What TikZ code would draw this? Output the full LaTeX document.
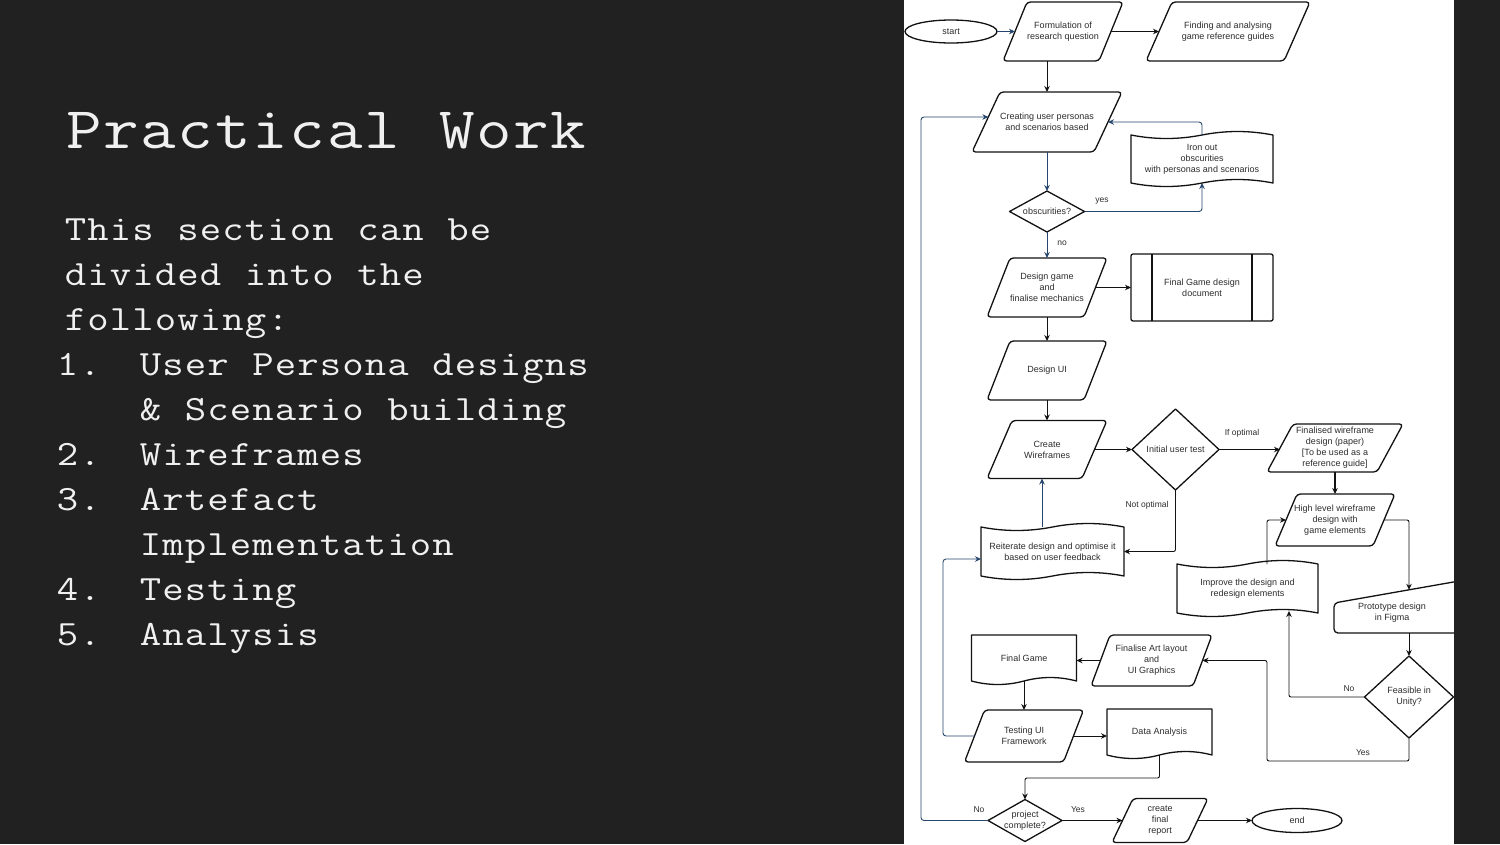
\documentclass[tikz,border=0pt]{standalone}
\usepackage{fontspec}
\usepackage{graphicx}
\setmainfont{Liberation Sans}
\usetikzlibrary{calc,arrows.meta,shapes.geometric}

\definecolor{slide}{RGB}{33,33,33}
\definecolor{slidetext}{RGB}{240,240,240}
\definecolor{loopblue}{RGB}{38,70,110}
\definecolor{ink}{RGB}{18,18,18}
\definecolor{txt}{RGB}{45,45,45}

% typewriter text set on a fixed character grid (~ marks a space),
% glyphs widened a little to fill their cells
\makeatletter
\newcommand\gridtext[2]{\@tfor\grid@c:=#2\do{\makebox[#1][c]{\scalebox{1.17}[1]{\grid@c}}}}
\makeatother
\newcommand\ttl[1]{\gridtext{37.3pt}{#1}}
\newcommand\bdy[1]{\gridtext{22.5pt}{#1}}

\tikzset{
  box/.style={draw=none, inner sep=0pt, outer sep=0pt, align=center,
    text=txt, font=\fontsize{9}{11}\selectfont},
  outline/.style={draw=ink, line width=1.3pt, line join=round},
  flow/.style={draw=ink, line width=0.9pt, -{Stealth[length=6pt,width=5.5pt]}},
  loopflow/.style={flow, draw=loopblue},
  lbl/.style={inner sep=0pt, text=txt, font=\fontsize{8.5}{10}\selectfont},
  title/.style={anchor=base west, inner sep=0pt, text=slidetext,
    font=\ttfamily\fontsize{59}{59}\selectfont},
  body/.style={anchor=base west, inner sep=0pt, text=slidetext,
    font=\ttfamily\fontsize{35.5}{45}\selectfont},
}

% parallelogram drawn on the box of a node; also gives side midpoints
\newcommand\parashape[2]{%
  \draw[outline, rounded corners=3.5pt] (#1.south west) -- ($(#1.north west)+(#2,0)$)
    -- (#1.north east) -- ($(#1.south east)+(-#2,0)$) -- cycle;
  \coordinate (#1-l) at ($(#1.west)+(#2/2,0)$);
  \coordinate (#1-r) at ($(#1.east)+(-#2/2,0)$);
}
% diamond on the box of a node
\newcommand\diamondshape[1]{%
  \draw[outline] (#1.north) -- (#1.east) -- (#1.south) -- (#1.west) -- cycle;
}
% tape: x0 y0 x1 y1 amplitude (wavy top and bottom)
\newcommand\tapeshape[5]{%
  \pgfmathsetmacro\tw{(#3)-(#1)}%
  \pgfmathsetmacro\tk{4*(#5)/3}%
  \pgfmathsetmacro\tm{((#1)+(#3))/2}%
  \draw[outline] (#1,#2)
    .. controls +(\tw/6,\tk) and +(-\tw/6,\tk) .. (\tm,#2)
    .. controls +(\tw/6,-\tk) and +(-\tw/6,-\tk) .. (#3,#2)
    -- (#3,#4)
    .. controls +(-\tw/6,-\tk) and +(\tw/6,-\tk) .. (\tm,#4)
    .. controls +(-\tw/6,\tk) and +(\tw/6,\tk) .. (#1,#4) -- cycle;
}
% document: x0 y0 x1 y1 amplitude (wavy bottom)
\newcommand\docshape[5]{%
  \pgfmathsetmacro\tw{(#3)-(#1)}%
  \pgfmathsetmacro\tk{4*(#5)/3}%
  \pgfmathsetmacro\tm{((#1)+(#3))/2}%
  \draw[outline] (#1,#4) -- (#1,#2) -- (#3,#2) -- (#3,#4)
    .. controls +(-\tw/6,-\tk) and +(\tw/6,-\tk) .. (\tm,#4)
    .. controls +(-\tw/6,\tk) and +(\tw/6,\tk) .. (#1,#4) -- cycle;
}

\begin{document}
\begin{tikzpicture}[x=1pt, y=-1pt]
\useasboundingbox (0,0) rectangle (1500,844);
\fill[slide] (0,0) rectangle (1500,844);
\fill[white] (904,0) rectangle (1454,844);

% ---- slide text ----
\node[title] (ttlnode) at (65,148) {\ttl{Practical~Work}};
\node[body] (b1) at (64,240) {\bdy{This~section~can~be}};
\node[body] (b2) at (64,285) {\bdy{divided~into~the}};
\node[body] (b3) at (64,330) {\bdy{following:}};
\node[body] (n1) at (56,375) {\bdy{1.}};
\node[body] (i1) at (139,375) {\bdy{User~Persona~designs}};
\node[body] (i1b) at (139,420) {\bdy{\&~Scenario~building}};
\node[body] (n2) at (56,465) {\bdy{2.}};
\node[body] (i2) at (139,465) {\bdy{Wireframes}};
\node[body] (n3) at (56,510) {\bdy{3.}};
\node[body] (i3) at (139,510) {\bdy{Artefact}};
\node[body] (i3b) at (139,555) {\bdy{Implementation}};
\node[body] (n4) at (56,600) {\bdy{4.}};
\node[body] (i4) at (139,600) {\bdy{Testing}};
\node[body] (n5) at (56,645) {\bdy{5.}};
\node[body] (i5) at (139,645) {\bdy{Analysis}};

% ---- flowchart nodes ----
\node[box, ellipse, draw=ink, line width=1.3pt, minimum width=92pt, minimum height=23pt] (start) at (951,31.5) {start};

\node[box, minimum width=120pt, minimum height=59pt] (formq) at (1063,31.5) {Formulation of\\research question};
\parashape{formq}{24}

\node[box, minimum width=164pt, minimum height=59pt] (finding) at (1228,31.5) {Finding and analysing\\game reference guides};
\parashape{finding}{26}

\node[box, minimum width=150pt, minimum height=60pt] (personas) at (1047,122) {Creating user personas\\and scenarios based};
\parashape{personas}{28}
\coordinate (personas-in) at ($(personas-l)+(2.4,-5)$);

\tapeshape{1131}{135}{1273}{183}{3.5}
\node[box, minimum width=142pt, minimum height=48pt] (ironout) at (1202,159) {Iron out\\obscurities\\with personas and scenarios};

\node[box, minimum width=75pt, minimum height=41pt] (obsc) at (1047,211.5) {obscurities?};
\diamondshape{obsc}

\node[box, minimum width=120pt, minimum height=59pt] (gamedesign) at (1047,287.5) {Design game\\and\\finalise mechanics};
\parashape{gamedesign}{23}

\node[box, minimum width=142pt, minimum height=67pt] (gdd) at (1202,287.5) {Final Game design\\document};
\draw[outline, rounded corners=2pt] (gdd.south west) rectangle (gdd.north east);
\draw[outline] ([xshift=21pt]gdd.north west) -- ([xshift=21pt]gdd.south west);
\draw[outline] ([xshift=-21pt]gdd.north east) -- ([xshift=-21pt]gdd.south east);

\node[box, minimum width=120pt, minimum height=59pt] (designui) at (1047,370.5) {Design UI};
\parashape{designui}{23}

\node[box, minimum width=120pt, minimum height=58pt] (wireframes) at (1047,449.5) {Create\\Wireframes};
\parashape{wireframes}{25}

\node[box, minimum width=87pt, minimum height=81pt] (inittest) at (1175.5,449.5) {Initial user test};
\diamondshape{inittest}

\node[box, minimum width=136pt, minimum height=48pt] (finalwire) at (1335,448) {Finalised wireframe\\design (paper)\\{[}To be used as a\\reference guide{]}};
\parashape{finalwire}{26}

\node[box, minimum width=120pt, minimum height=52pt] (highlevel) at (1335,520) {High level wireframe\\design with\\game elements};
\parashape{highlevel}{22}

\tapeshape{981}{527}{1124}{576}{3.5}
\node[box, minimum width=143pt, minimum height=49pt] (reiterate) at (1052.5,551.5) {Reiterate design and optimise it\\based on user feedback};

\tapeshape{1177}{564}{1318}{613}{3.5}
\node[box, minimum width=141pt, minimum height=49pt] (improve) at (1247.5,588.5) {Improve the design and\\redesign elements};

% manual input shape, cut by the slide edge
\draw[outline, rounded corners=4pt] (1334,633) -- (1334,603) -- (1462,580.5) -- (1462,633) -- cycle;
\node[box] (proto) at (1392,613) {Prototype design\\in Figma};
\coordinate (proto-in) at (1409,589.8);
\coordinate (proto-out) at (1409,633);

\node[box, minimum width=89pt, minimum height=82pt] (feasible) at (1409,697) {Feasible in\\Unity?};
\diamondshape{feasible}

\node[box, minimum width=121pt, minimum height=51pt] (finalise) at (1151.5,660.5) {Finalise Art layout\\and\\UI Graphics};
\parashape{finalise}{19}

\docshape{971.5}{635}{1076.5}{681}{3.5}
\node[box, minimum width=105pt, minimum height=46pt] (finalgame) at (1024,658) {Final Game};

\node[box, minimum width=119pt, minimum height=52pt] (testing) at (1024,736) {Testing UI\\Framework};
\parashape{testing}{20}

\docshape{1107}{709}{1212}{755}{3.5}
\node[box, minimum width=105pt, minimum height=46pt] (data) at (1159.5,732) {Data Analysis};

\node[box, minimum width=74pt, minimum height=42pt] (projc) at (1025,820.5) {project\\complete?};
\diamondshape{projc}

\node[box, minimum width=96pt, minimum height=44pt] (report) at (1160,820.5) {create\\final\\report};
\parashape{report}{21}

\node[box, ellipse, draw=ink, line width=1.3pt, minimum width=90pt, minimum height=24pt] (endn) at (1297,820.5) {end};

% ---- connectors ----
\coordinate (innerbus) at (943,0);
\coordinate (outerbus) at (921,0);
\coordinate (yesturn) at (1267,761);

\draw[loopflow] (start.east) -- (formq-l);
\draw[flow] (formq-r) -- (finding-l);
\draw[flow] (personas.north |- formq.south) -- (personas.north);
\draw[loopflow] (personas.south) -- (obsc.north);
\draw[loopflow, rounded corners=3pt] (obsc.east) -| (ironout.south);
\node[lbl] (lyes) at (1102,201) {yes};
\draw[loopflow, rounded corners=3pt] (ironout.north) |- (personas-r);
\draw[loopflow] (obsc.south) -- (gamedesign.north);
\node[lbl] (lno) at (1062,243) {no};
\draw[flow] (gamedesign-r) -- (gdd.west);
\draw[flow] (gamedesign.south) -- (designui.north);
\draw[flow] (designui.south) -- (wireframes.north);
\draw[flow] (wireframes-r) -- (inittest.west);
\draw[flow] (inittest.east) -- (inittest.east -| finalwire-l);
\node[lbl] (lopt) at (1242,433) {If optimal};
\draw[flow, line width=1.4pt] (finalwire.south) -- (highlevel.north);
\draw[flow, rounded corners=2pt] (inittest.south) |- (reiterate.east);
\node[lbl] (lnopt) at (1147,505) {Not optimal};
\draw[loopflow] ([xshift=-10.5pt]reiterate.north) -- ([xshift=-10.5pt]reiterate.north |- wireframes.south);
\draw[loopflow, rounded corners=3pt] (testing-l) -| ([yshift=-7.5pt]innerbus |- reiterate.west) -- ([yshift=-7.5pt]reiterate.west);
\draw[loopflow, rounded corners=3pt] (projc.west) -| (outerbus |- personas-in) -- (personas-in);
\node[lbl] (lno2) at (979,810) {No};
\draw[flow, rounded corners=2pt] ([xshift=19.5pt]improve.south |- improve.north) |- (highlevel-l);
\draw[flow, rounded corners=2pt] (highlevel-r) -| (proto-in);
\draw[flow] (proto-out) -- (feasible.north);
\draw[flow, rounded corners=2pt] (feasible.west) -| ([xshift=41.5pt,yshift=2pt]improve.south);
\node[lbl] (lno3) at (1349,689) {No};
\draw[flow, rounded corners=2pt] (feasible.south) |- (yesturn) |- (finalise-r);
\node[lbl] (lyes2) at (1363,753) {Yes};
\draw[flow] (finalise-l) -- (finalise-l -| finalgame.east);
\draw[flow] (finalgame.south) -- (testing.north);
\draw[flow] (testing-r) -- (testing-r -| data.west);
\draw[flow, rounded corners=2pt] (data.south) -- ++(0,23) -| (projc.north);
\draw[flow] (projc.east) -- (report-l);
\node[lbl] (lyes3) at (1078,810) {Yes};
\draw[flow] (report-r) -- (endn.west);

% slide margin on the right covers shapes running past the panel
\fill[slide] (1454,0) rectangle (1500,844);
\end{tikzpicture}
\end{document}
